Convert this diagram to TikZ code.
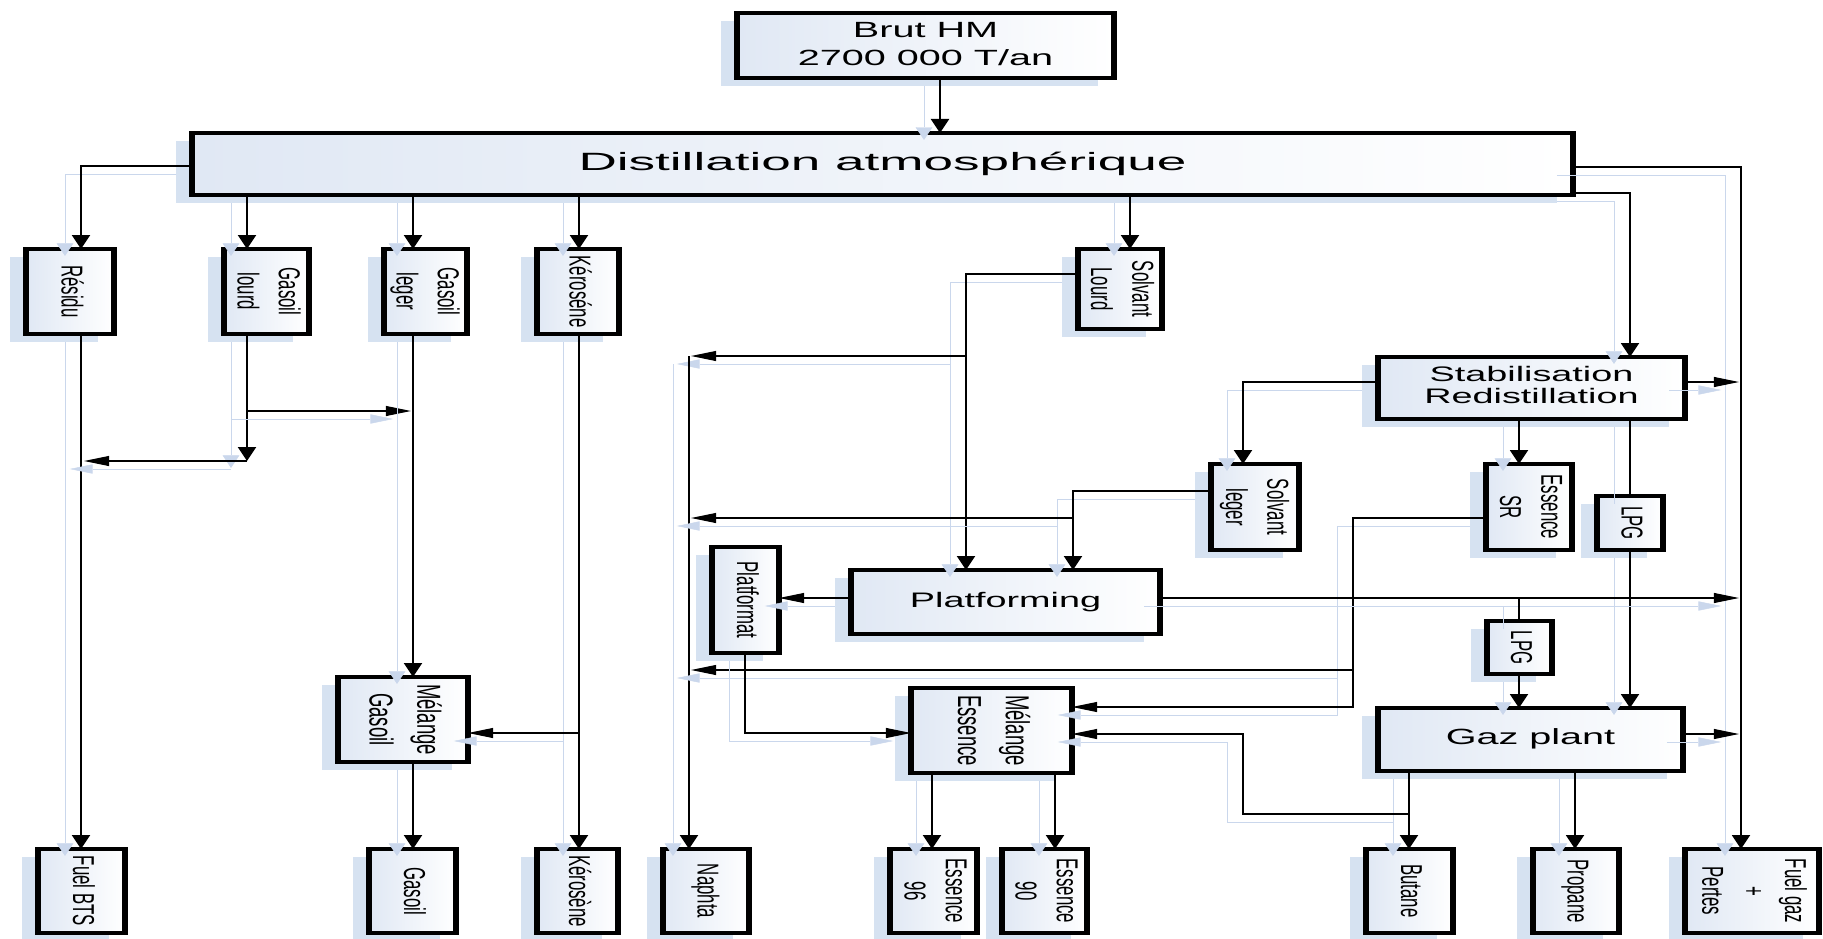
\documentclass[tikz,border=0pt]{standalone}
\usepackage{fontspec}
\setmainfont{Liberation Sans}
\usepackage{graphicx}
\usetikzlibrary{arrows.meta,shadows}
\definecolor{shadowblue}{RGB}{214,226,241}
\definecolor{ghost}{RGB}{202,215,236}
\definecolor{boxblue}{RGB}{224,232,244}
\newcommand\htxt[3]{{\fontsize{#1}{#2}\selectfont\begin{tabular}{@{}c@{}}#3\end{tabular}}}
\newcommand\vtxt[1]{\rotatebox{-90}{\fontsize{16.8}{23}\selectfont\begin{tabular}{@{}c@{}}#1\end{tabular}}}
\newcommand\vtxtm[1]{\rotatebox{-90}{\fontsize{18.5}{26.5}\selectfont\begin{tabular}{@{}c@{}}#1\end{tabular}}}
\begin{document}
\begin{tikzpicture}
\path[use as bounding box, fill=white] (0pt,0pt) rectangle (1823pt,-939pt);
\begin{scope}[x=0.55556pt, y=-1pt, transform canvas={xscale=1.8},
  box/.style={draw, line width=3.5pt, inner sep=0pt, outer sep=0pt, left color=boxblue, right color=white,
    drop shadow={shadow xshift=-8.9pt, shadow yshift=-8pt, fill=shadowblue, opacity=1}},
  vb/.style={box, minimum height=85pt},
  bb/.style={box, minimum height=84pt},
  conn/.style={line width=1.1pt, draw=black,
    preaction={draw=ghost, transform canvas={shift={(-8.9pt,-8pt)}}}},
  arr/.style={conn, -{Triangle[length=14pt,width=10pt]}}]

% boxes
\node[box, minimum width=209.4pt, minimum height=65pt] (brut) at (925.5,45.5) {\htxt{22}{28}{Brut HM\\2700 000 T/an}};
\node[box, minimum width=767.2pt, minimum height=62pt] (dist) at (882.5,164) {\scalebox{1.18}[1]{\htxt{25}{30}{Distillation atmosphérique}}};
\node[vb, minimum width=48.9pt] (residu) at (70,291.5) {\vtxt{Résidu}};
\node[vb, minimum width=47.2pt] (glourd) at (266.5,291.5) {\vtxt{Gasoil\\lourd}};
\node[vb, minimum width=46.1pt] (gleger) at (425.5,291.5) {\vtxt{Gasoil\\leger}};
\node[vb, minimum width=45.6pt] (kero1) at (578,291.5) {\vtxt{Kéroséne}};
\node[box, minimum width=46.7pt, minimum height=80pt] (slourd) at (1120,289) {\vtxt{Solvant\\Lourd}};
\node[box, minimum width=170.6pt, minimum height=62pt] (stab) at (1531.5,388) {\htxt{21}{22}{Stabilisation\\Redistillation}};
\node[box, minimum width=48.9pt, minimum height=86pt] (sleger) at (1255,507) {\vtxt{Solvant\\leger}};
\node[box, minimum width=47.8pt, minimum height=86pt] (essr) at (1529,507) {\vtxt{Essence\\SR}};
\node[box, minimum width=36.7pt, minimum height=54pt] (lpg1) at (1630,523) {\vtxt{LPG}};
\node[box, minimum width=37.2pt, minimum height=106pt] (platformat) at (745.5,600) {\vtxt{Platformat}};
\node[box, minimum width=171.7pt, minimum height=64pt] (platforming) at (1005.5,602) {\htxt{21}{25}{Platforming}};
\node[box, minimum width=36.1pt, minimum height=53pt] (lpg2) at (1519.5,647.5) {\vtxt{LPG}};
\node[vb, minimum width=72.2pt] (mgasoil) at (403,719.5) {\vtxtm{Mélange\\Gasoil}};
\node[vb, minimum width=89.4pt] (messence) at (991.5,730.5) {\vtxtm{Mélange\\Essence}};
\node[box, minimum width=169.4pt, minimum height=63pt] (gazplant) at (1530.5,739.5) {\htxt{22}{25}{Gaz plant}};
\node[bb, minimum width=48.3pt] (fuelbts) at (81.5,891) {\vtxt{Fuel BTS}};
\node[bb, minimum width=48.3pt] (gasoil) at (412.5,891) {\vtxt{Gasoil}};
\node[bb, minimum width=45pt] (kero2) at (577.5,891) {\vtxt{Kérosène}};
\node[bb, minimum width=47.8pt] (naphta) at (706,891) {\vtxt{Naphta}};
\node[bb, minimum width=48.3pt] (ess96) at (933.5,891) {\vtxt{Essence\\96}};
\node[bb, minimum width=47.2pt] (ess90) at (1044.5,891) {\vtxt{Essence\\90}};
\node[bb, minimum width=48.3pt] (butane) at (1409.5,891) {\vtxt{Butane}};
\node[bb, minimum width=47.8pt] (propane) at (1576,891) {\vtxt{Propane}};
\node[bb, minimum width=74.4pt] (fuelgaz) at (1752,891) {\vtxt{Fuel gaz\\+\\Pertes}};

% junction coordinates
\coordinate (jA) at (247,461);
\coordinate (jB) at (84,461);
\coordinate (jC) at (247,411);
\coordinate (jD) at (411,411);
\coordinate (jE) at (966,356);
\coordinate (jF) at (691,356);
\coordinate (jG) at (689,356);
\coordinate (jH) at (1073,518);
\coordinate (jI) at (691,518);
\coordinate (jJ) at (1353,707);
\coordinate (jK) at (1353,670);
\coordinate (jL) at (691,670);
\coordinate (jM) at (1739,382);
\coordinate (jN) at (1519,598);
\coordinate (jO) at (1739,598);
\coordinate (jP) at (1739,734);
\coordinate (jQ) at (1409,814);
\coordinate (jR) at (1243,734);
\coordinate (jS) at (579,733);

% connectors
\draw[arr] (brut.south -| 940,0) -- (dist.north -| 940,0);
\draw[arr] (dist.west |- 0,166) -| (residu.north -| 81,0);
\draw[arr] (residu.south -| 81,0) -- (fuelbts.north -| 81,0);
\draw[arr] (dist.south -| 247,0) -- (glourd.north -| 247,0);
\draw[arr] (glourd.south -| jA) -- (jA);
\draw[arr] (jA) -- (jB);
\draw[arr] (jC) -- (jD);
\draw[arr] (dist.south -| 413,0) -- (gleger.north -| 413,0);
\draw[arr] (gleger.south -| 413,0) -- (mgasoil.north -| 413,0);
\draw[arr] (mgasoil.south -| 413,0) -- (gasoil.north -| 413,0);
\draw[arr] (dist.south -| 579,0) -- (kero1.north -| 579,0);
\draw[arr] (kero1.south -| 579,0) -- (kero2.north -| 579,0);
\draw[arr] (jS) -- (mgasoil.east |- jS);
\draw[arr] (dist.south -| 1130,0) -- (slourd.north -| 1130,0);
\draw[arr] (slourd.west |- 0,274) -| (platforming.north -| jE);
\draw[arr] (jE) -- (jF);
\draw[arr] (jG) -- (naphta.north -| jG);
\draw[arr] (dist.east |- 0,167) -| (fuelgaz.north -| 1741,0);
\draw[arr] (dist.east |- 0,193) -| (stab.north -| 1630,0);
\draw[arr] (stab.west |- 0,382) -| (sleger.north -| 1243,0);
\draw[arr] (stab.south -| 1519,0) -- (essr.north -| 1519,0);
\draw[conn] (stab.south -| 1630,0) -- (lpg1.north -| 1630,0);
\draw[arr] (lpg1.south -| 1630,0) -- (gazplant.north -| 1630,0);
\draw[arr] (stab.east |- jM) -- (jM);
\draw[arr] (sleger.west |- 0,491) -| (platforming.north -| jH);
\draw[arr] (jH) -- (jI);
\draw[arr] (essr.west |- 0,518) -| (jJ) -- (messence.east |- jJ);
\draw[arr] (jK) -- (jL);
\draw[arr] (platforming.west |- 0,598) -- (platformat.east |- 0,598);
\draw[arr] (platformat.south -| 745,0) |- (messence.west |- 0,733);
\draw[arr] (platforming.east |- jO) -- (jO);
\draw[conn] (jN) -- (lpg2.north -| jN);
\draw[arr] (lpg2.south -| jN) -- (gazplant.north -| jN);
\draw[arr] (gazplant.east |- jP) -- (jP);
\draw[arr] (gazplant.south -| jQ) -- (butane.north -| jQ);
\draw[arr] (jQ) -| (jR) -- (messence.east |- jR);
\draw[arr] (gazplant.south -| 1575,0) -- (propane.north -| 1575,0);
\draw[arr] (messence.south -| 932,0) -- (ess96.north -| 932,0);
\draw[arr] (messence.south -| 1055,0) -- (ess90.north -| 1055,0);
\end{scope}
\end{tikzpicture}
\end{document}
